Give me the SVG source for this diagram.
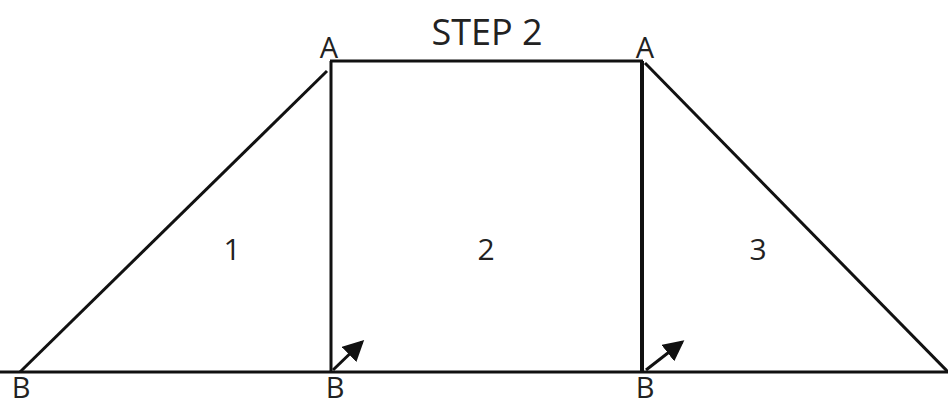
<svg xmlns="http://www.w3.org/2000/svg" width="948" height="405" viewBox="0 0 948 405">
<style>
.ln{stroke:#111;stroke-width:3;fill:none;stroke-linecap:butt}
.t{font-family:"Open Sans","Noto Sans",sans-serif;fill:#222}
.lb{font-size:29px}
.num{font-size:30px}
</style>
<defs>
<marker id="ah" markerWidth="7" markerHeight="7" refX="6" refY="3.5" orient="auto" markerUnits="strokeWidth">
<path d="M0,0 L7,3.5 L0,7 z" fill="#111"/>
</marker>
</defs>
<rect width="948" height="405" fill="#fff"/>
<g id="connectors">
<line class="ln" x1="0" y1="372" x2="948" y2="372"/>
<line class="ln" x1="330" y1="61" x2="643" y2="61"/>
<line class="ln" x1="20" y1="372" x2="327" y2="71"/>
<line class="ln" x1="331" y1="61" x2="331" y2="372"/>
<line class="ln" x1="642" y1="61" x2="642" y2="372" style="stroke-width:4"/>
<line class="ln" x1="645" y1="63" x2="948" y2="372"/>
<line class="ln" x1="333" y1="370" x2="362" y2="342" marker-end="url(#ah)"/>
<line class="ln" x1="646" y1="370" x2="682" y2="342" marker-end="url(#ah)"/>
</g>
<g id="title"><text class="t" x="487" y="45" font-size="36" text-anchor="middle">STEP 2</text></g>
<g id="labels">
<text class="t lb" x="329" y="58" text-anchor="middle">A</text>
<text class="t lb" x="645" y="58" text-anchor="middle">A</text>
<text class="t lb" x="21" y="398" text-anchor="middle">B</text>
<text class="t lb" x="335" y="398" text-anchor="middle">B</text>
<text class="t lb" x="645" y="398" text-anchor="middle">B</text>
</g>
<g id="region1"><text class="t num" x="232" y="260" text-anchor="middle">1</text></g>
<g id="region2"><text class="t num" x="486" y="260" text-anchor="middle">2</text></g>
<g id="region3"><text class="t num" x="758" y="260" text-anchor="middle">3</text></g>
</svg>
